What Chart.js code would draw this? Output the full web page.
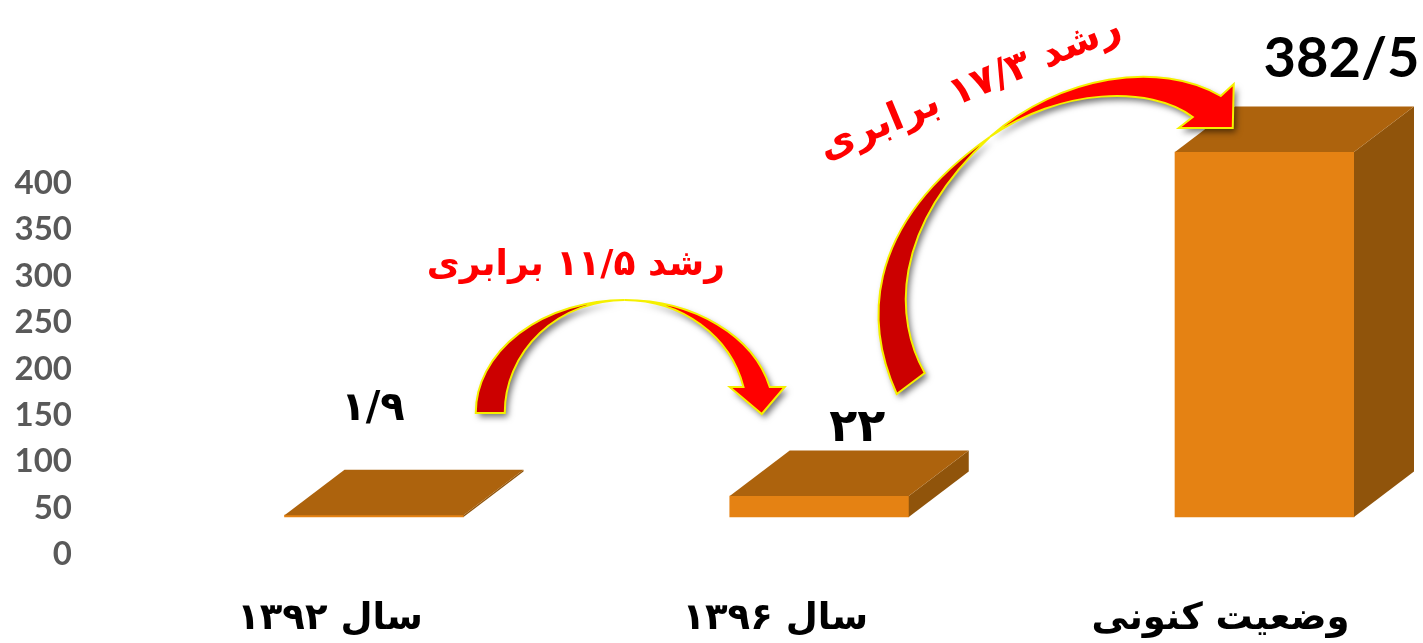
<!DOCTYPE html>
<html lang="fa">
<head>
<meta charset="utf-8">
<title>رشد</title>
<script src="https://cdn.jsdelivr.net/npm/chart.js@4"></script>
<style>
html,body{margin:0;padding:0;background:#fff;overflow:hidden}
#wrap{width:1423px;height:643px;position:relative}
canvas{direction:rtl;display:block}
</style>
</head>
<body>
<div id="wrap"><canvas id="c" width="1423" height="643"></canvas></div>
<script>
const categories = ['سال ۱۳۹۲', 'سال ۱۳۹۶', 'وضعیت کنونی'];
const values = [1.9, 22, 382.5];
const valueLabels = ['۱/۹', '۲۲', '382/5'];
const yTickValues = [0, 50, 100, 150, 200, 250, 300, 350, 400];
const growthLabels = ['رشد ۱۱/۵ برابری', 'رشد ۱۷/۳ برابری'];

const ARABIC = '"DejaVu Sans", sans-serif';
const LATIN = 'Lato, sans-serif';

function paintArrow(ctx, fill) {
  ctx.closePath();
  ctx.save();
  ctx.shadowColor = 'rgba(0,0,0,0.55)';
  ctx.shadowBlur = 6; ctx.shadowOffsetX = 3; ctx.shadowOffsetY = 4;
  ctx.fillStyle = fill; ctx.fill();
  ctx.restore();
  ctx.lineWidth = 2; ctx.strokeStyle = '#F5F000'; ctx.lineJoin = 'miter'; ctx.stroke();
}

const bars3d = {
  id: 'bars3d',
  afterDatasetsDraw(chart) {
    const ctx = chart.ctx, dx = 60, dy = -45.5;
    chart.getDatasetMeta(0).data.forEach(b => {
      const l = b.x - b.width / 2, r = b.x + b.width / 2, t = b.y, bt = b.base;
      ctx.fillStyle = '#90540B';
      ctx.beginPath(); ctx.moveTo(r, t); ctx.lineTo(r + dx, t + dy); ctx.lineTo(r + dx, bt + dy); ctx.lineTo(r, bt); ctx.closePath(); ctx.fill();
      ctx.fillStyle = '#AD630D';
      ctx.beginPath(); ctx.moveTo(l, t); ctx.lineTo(l + dx, t + dy); ctx.lineTo(r + dx, t + dy); ctx.lineTo(r, t); ctx.closePath(); ctx.fill();
    });
  }
};

const annotations = {
  id: 'annotations',
  afterDraw(chart) {
    const ctx = chart.ctx, bars = chart.getDatasetMeta(0).data;
    const PI = Math.PI, headAngle = 2 * PI - 0.232;
    ctx.save();
    ctx.textAlign = 'center'; ctx.textBaseline = 'alphabetic'; ctx.direction = 'rtl';
    ctx.fillStyle = '#000';
    // value labels, placed from each bar's own position
    ctx.font = 'bold 40px ' + ARABIC; ctx.fillText(valueLabels[0], bars[0].x - 1, bars[0].y - 95);
    ctx.font = 'bold 46px ' + ARABIC; ctx.fillText(valueLabels[1], bars[1].x + 38, bars[1].y - 55);
    ctx.font = 'bold 56px ' + LATIN;  ctx.fillText(valueLabels[2], bars[2].x + 77, bars[2].y - 75);

    // arrows are anchored on the middle bar
    ctx.translate(bars[1].x - 819.5, bars[1].base - 517);

    ctx.beginPath();
    ctx.ellipse(625, 413, 149, 113, 0, PI, 1.5 * PI);
    ctx.ellipse(625, 413, 120, 113, 0, 1.5 * PI, PI, true);
    paintArrow(ctx, '#CC0000');

    ctx.beginPath();
    ctx.ellipse(625, 413, 149, 113, 0, 1.5 * PI, headAngle);
    ctx.lineTo(785, 387); ctx.lineTo(762, 414); ctx.lineTo(730, 387);
    ctx.ellipse(625, 413, 122, 113, 0, headAngle, 1.5 * PI, true);
    paintArrow(ctx, '#FF0000');

    ctx.beginPath();
    ctx.moveTo(897, 394);
    ctx.bezierCurveTo(868, 330, 858, 230, 990, 137);
    ctx.bezierCurveTo(890, 230, 895, 320, 925, 373);
    paintArrow(ctx, '#CC0000');

    ctx.beginPath();
    ctx.moveTo(990, 137);
    ctx.bezierCurveTo(1060, 75, 1160, 60, 1221, 96);
    ctx.lineTo(1234, 84); ctx.lineTo(1233, 128); ctx.lineTo(1179, 128); ctx.lineTo(1193, 117);
    ctx.bezierCurveTo(1150, 85, 1060, 88, 990, 137);
    paintArrow(ctx, '#FF0000');

    ctx.fillStyle = '#FF0000';
    ctx.font = 'bold 36px ' + ARABIC;
    ctx.fillText(growthLabels[0], 576, 275);
    ctx.save();
    ctx.translate(970, 87); ctx.rotate(-22.5 * Math.PI / 180);
    ctx.font = 'bold 39px ' + ARABIC;
    ctx.fillText(growthLabels[1], 0, 12);
    ctx.restore();
    ctx.restore();
  }
};

new Chart(document.getElementById('c'), {
  type: 'bar',
  data: {
    labels: categories,
    datasets: [{
      data: values, yAxisID: 'yBars', backgroundColor: '#E58213', borderWidth: 0,
      barThickness: 179, clip: false
    }]
  },
  options: {
    responsive: false, animation: false,
    layout: { padding: { left: 0, top: 0, bottom: 0, right: 158.5 }, autoPadding: false },
    plugins: { legend: { display: false }, tooltip: { enabled: false } },
    scales: {
      x: {
        offset: false, grid: { display: false, drawTicks: false }, border: { display: false },
        afterFit(s) { s.height = 88.5; s.paddingLeft = s.paddingRight = 0; },
        ticks: {
          autoSkip: false, maxRotation: 0, minRotation: 0, padding: 43, labelOffset: -44,
          color: '#000', font: { family: ARABIC, weight: 'bold', size: 37 }
        }
      },
      y: {
        position: 'left', min: 0, max: 597.8,
        grid: { display: false, drawTicks: false }, border: { display: false },
        afterBuildTicks(s) { s.ticks = yTickValues.map(v => ({ value: v })); },
        afterFit(s) { s.width = 374; s.paddingTop = s.paddingBottom = 0; },
        ticks: { padding: 302, autoSkip: false, color: '#595959', font: { family: LATIN, weight: 'bold', size: 33 } }
      },
      yBars: { display: false, min: -39.3, max: 541.8 }
    }
  },
  plugins: [bars3d, annotations]
});
</script>
</body>
</html>
